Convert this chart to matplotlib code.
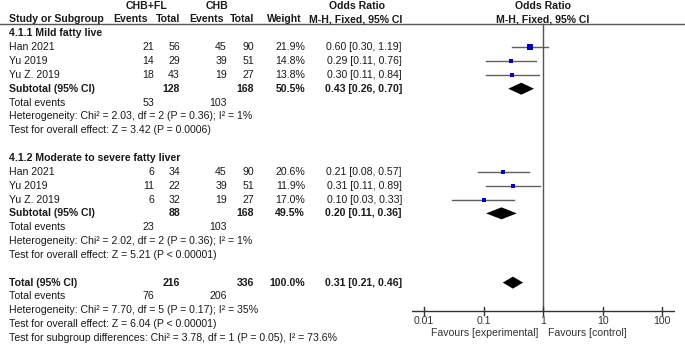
import matplotlib
matplotlib.use("Agg")
import matplotlib.pyplot as plt
import numpy as np

plt.rcParams['font.family'] = ['Liberation Sans', 'DejaVu Sans']

# study data, per subgroup
groups = ["4.1.1 Mild fatty live", "4.1.2 Moderate to severe fatty liver"]
studies = [["Han 2021", "Yu 2019", "Yu Z. 2019"],
           ["Han 2021", "Yu 2019", "Yu Z. 2019"]]
exp_events = [[21, 14, 18], [6, 11, 6]]
exp_total = [[56, 29, 43], [34, 22, 32]]
ctl_events = [[45, 39, 19], [45, 39, 19]]
ctl_total = [[90, 51, 27], [90, 51, 27]]
weights = [[21.9, 14.8, 13.8], [20.6, 11.9, 17.0]]
odds = [[0.60, 0.29, 0.30], [0.21, 0.31, 0.10]]
ci_low = [[0.30, 0.11, 0.11], [0.08, 0.11, 0.03]]
ci_high = [[1.19, 0.76, 0.84], [0.57, 0.89, 0.33]]

sub_exp_total = [128, 88]
sub_ctl_total = [168, 168]
sub_weight = ["50.5%", "49.5%"]
sub_or = [0.43, 0.20]
sub_low = [0.26, 0.11]
sub_high = [0.70, 0.36]
sub_exp_events = [53, 23]
sub_ctl_events = [103, 103]
sub_het = ["Heterogeneity: Chi\u00b2 = 2.03, df = 2 (P = 0.36); I\u00b2 = 1%",
           "Heterogeneity: Chi\u00b2 = 2.02, df = 2 (P = 0.36); I\u00b2 = 1%"]
sub_test = ["Test for overall effect: Z = 3.42 (P = 0.0006)",
            "Test for overall effect: Z = 5.21 (P < 0.00001)"]

tot_exp_total, tot_ctl_total = 216, 336
tot_or, tot_low, tot_high = 0.31, 0.21, 0.46
tot_exp_events, tot_ctl_events = 76, 206
tot_lines = ["Heterogeneity: Chi\u00b2 = 7.70, df = 5 (P = 0.17); I\u00b2 = 35%",
             "Test for overall effect: Z = 6.04 (P < 0.00001)",
             "Test for subgroup differences: Chi\u00b2 = 3.78, df = 1 (P = 0.05), I\u00b2 = 73.6%"]

ticks = [0.01, 0.1, 1, 10, 100]
tick_labels = ["0.01", "0.1", "1", "10", "100"]

W, H = 685, 347
fig = plt.figure(figsize=(W / 100, H / 100), dpi=100)

# text layer in pixel coordinates
tx = fig.add_axes([0, 0, 1, 1])
tx.set_xlim(0, W)
tx.set_ylim(H, 0)
tx.axis("off")

# forest plot layer, log x, pixel y
px0, px1 = 411.7, 675
ax = fig.add_axes([px0 / W, 0, (px1 - px0) / W, 1])
ax.set_xscale("log")
ax.set_xlim(10 ** -2.207, 10 ** 2.213)
ax.set_ylim(H, 0)
ax.axis("off")

fs = 7.6
tc = "#1a1a1a"
x_name = 9
x_ev1, x_tot1, x_ev2, x_tot2, x_w, x_or = 154, 180, 227, 254, 305, 402


def txt(x, y, s, ha="left", bold=False):
    tx.text(x, y, s, ha=ha, va="center", fontsize=fs, color=tc,
            fontweight="bold" if bold else "normal")


def diamond(y, est, lo, hi, h=6):
    ax.fill([lo, est, hi, est], [y, y - h, y, y + h], color="black", lw=0)


# headers
txt(147, 6, "CHB+FL", ha="center", bold=True)
txt(217, 6, "CHB", ha="center", bold=True)
txt(357, 6, "Odds Ratio", ha="center", bold=True)
txt(543, 6, "Odds Ratio", ha="center", bold=True)
hy = 19
txt(x_name, hy, "Study or Subgroup", bold=True)
txt(148, hy, "Events", ha="right", bold=True)
txt(x_tot1, hy, "Total", ha="right", bold=True)
txt(224, hy, "Events", ha="right", bold=True)
txt(x_tot2, hy, "Total", ha="right", bold=True)
txt(302, hy, "Weight", ha="right", bold=True)
txt(x_or, hy, "M-H, Fixed, 95% CI", ha="right", bold=True)
txt(543, hy, "M-H, Fixed, 95% CI", ha="center", bold=True)
tx.plot([0, W], [23.5, 23.5], color="#555555", lw=1)

step = 13.85
row = 0
y0 = 33.3
for g in range(len(groups)):
    y = y0 + row * step
    txt(x_name, y, groups[g], bold=True)
    row += 1
    for i in range(len(studies[g])):
        y = y0 + row * step
        txt(x_name, y, studies[g][i])
        txt(x_ev1, y, str(exp_events[g][i]), ha="right")
        txt(x_tot1, y, str(exp_total[g][i]), ha="right")
        txt(x_ev2, y, str(ctl_events[g][i]), ha="right")
        txt(x_tot2, y, str(ctl_total[g][i]), ha="right")
        txt(x_w, y, "%.1f%%" % weights[g][i], ha="right")
        txt(x_or, y, "%.2f [%.2f, %.2f]" % (odds[g][i], ci_low[g][i], ci_high[g][i]), ha="right")
        ax.plot([ci_low[g][i], ci_high[g][i]], [y, y], color="#606060", lw=1)
        # square side grows with the study weight
        side_px = 1.3 + 0.17 * weights[g][i]
        ax.plot(odds[g][i], y, marker="s", color="#0000cc", lw=0,
                markersize=side_px * 0.72, markeredgewidth=0)
        row += 1
    y = y0 + row * step
    txt(x_name, y, "Subtotal (95% CI)", bold=True)
    txt(x_tot1, y, str(sub_exp_total[g]), ha="right", bold=True)
    txt(x_tot2, y, str(sub_ctl_total[g]), ha="right", bold=True)
    txt(x_w, y, sub_weight[g], ha="right", bold=True)
    txt(x_or, y, "%.2f [%.2f, %.2f]" % (sub_or[g], sub_low[g], sub_high[g]), ha="right", bold=True)
    diamond(y, sub_or[g], sub_low[g], sub_high[g])
    row += 1
    y = y0 + row * step
    txt(x_name, y, "Total events")
    txt(x_ev1, y, str(sub_exp_events[g]), ha="right")
    txt(x_ev2, y, str(sub_ctl_events[g]), ha="right")
    row += 1
    txt(x_name, y0 + row * step, sub_het[g])
    row += 1
    txt(x_name, y0 + row * step, sub_test[g])
    row += 2

y = y0 + row * step
txt(x_name, y, "Total (95% CI)", bold=True)
txt(x_tot1, y, str(tot_exp_total), ha="right", bold=True)
txt(x_tot2, y, str(tot_ctl_total), ha="right", bold=True)
txt(x_w, y, "100.0%", ha="right", bold=True)
txt(x_or, y, "%.2f [%.2f, %.2f]" % (tot_or, tot_low, tot_high), ha="right", bold=True)
diamond(y, tot_or, tot_low, tot_high)
row += 1
y = y0 + row * step
txt(x_name, y, "Total events")
txt(x_ev1, y, str(tot_exp_events), ha="right")
txt(x_ev2, y, str(tot_ctl_events), ha="right")
row += 1
for s in tot_lines:
    txt(x_name, y0 + row * step, s)
    row += 1

# axis, null line and ticks
ay = 311
lo, hi = ax.get_xlim()
ax.plot([lo, hi], [ay, ay], color="#333333", lw=1)
ax.plot([1, 1], [23.5, ay], color="#555555", lw=1)
for t, lab in zip(ticks, tick_labels):
    ax.plot([t, t], [ay - 4, ay + 4], color="#333333", lw=1)
    ax.text(t, 321, lab, ha="center", va="center", fontsize=fs, color="#333333")
ax.text(0.82, 333, "Favours [experimental]", ha="right", va="center", fontsize=fs, color="#333333")
ax.text(1.2, 333, "Favours [control]", ha="left", va="center", fontsize=fs, color="#333333")

fig.savefig("out.png", dpi=100)
